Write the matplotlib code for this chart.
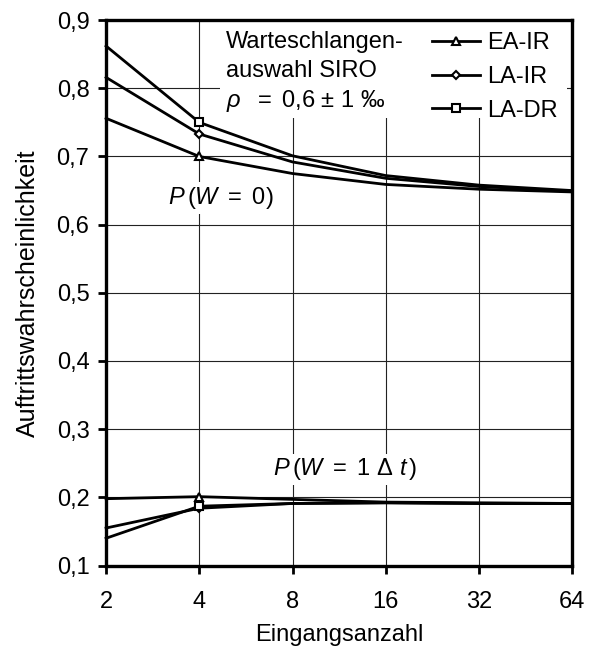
import matplotlib
matplotlib.use("Agg")
import matplotlib.pyplot as plt
from matplotlib.patches import Rectangle
from matplotlib.lines import Line2D

plt.rcParams['font.family'] = ['Liberation Sans', 'DejaVu Sans']
plt.rcParams['mathtext.fontset'] = 'custom'
plt.rcParams['mathtext.rm'] = 'Liberation Sans'
plt.rcParams['mathtext.it'] = 'Liberation Sans:italic'

# Data
eingaenge = [2, 4, 8, 16, 32, 64]
x_labels = ['2', '4', '8', '16', '32', '64']
y_ticks = [0.1, 0.2, 0.3, 0.4, 0.5, 0.6, 0.7, 0.8, 0.9]
y_labels = ['0,1', '0,2', '0,3', '0,4', '0,5', '0,6', '0,7', '0,8', '0,9']

series_names = ['EA-IR', 'LA-IR', 'LA-DR']
p0_ea_ir = [0.756, 0.700, 0.675, 0.659, 0.652, 0.648]
p0_la_ir = [0.816, 0.733, 0.692, 0.668, 0.656, 0.649]
p0_la_dr = [0.862, 0.750, 0.701, 0.672, 0.658, 0.650]
p1_ea_ir = [0.198, 0.201, 0.197, 0.193, 0.192, 0.191]
p1_la_ir = [0.155, 0.184, 0.191, 0.192, 0.191, 0.191]
p1_la_dr = [0.140, 0.187, 0.191, 0.192, 0.191, 0.191]

markers = ['^', 'D', 's']
msizes = [6, 4.5, 5.5]
FS = 17

fig = plt.figure(figsize=(5.96, 6.5), dpi=100)
ax = fig.add_axes([0.178, 0.13, 0.782, 0.839])
ax.set_xscale('log', base=2)
ax.set_xlim(2, 64)
ax.set_ylim(0.1, 0.9)
ax.set_xticks(eingaenge)
ax.set_xticklabels(x_labels)
ax.minorticks_off()
ax.set_yticks(y_ticks)
ax.set_yticklabels(y_labels)
ax.set_axisbelow(True)
ax.grid(True, color='#222222', linewidth=0.8)

for s in ax.spines.values():
    s.set_linewidth(2.4)
ax.tick_params(axis='both', which='major', direction='out', length=6, width=2,
               labelsize=FS)
ax.tick_params(axis='x', pad=12)
ax.tick_params(axis='y', pad=6)

# white panel behind the annotation and legend
ax.add_patch(Rectangle((0.245, 0.82), 0.744, 0.176, transform=ax.transAxes,
                       facecolor='white', edgecolor='none', zorder=1))

upper = [p0_ea_ir, p0_la_ir, p0_la_dr]
lower = [p1_ea_ir, p1_la_ir, p1_la_dr]
for vals, m, ms in zip(upper + lower, markers * 2, msizes * 2):
    ax.plot(eingaenge, vals, color='black', lw=2.0, marker=m, markevery=[1],
            markersize=ms, markerfacecolor='white', markeredgecolor='black',
            markeredgewidth=1.5, zorder=3, clip_on=False)

handles = [Line2D([], [], color='black', lw=2.0, marker=m, markersize=ms,
                  markerfacecolor='white', markeredgecolor='black', markeredgewidth=1.5)
           for m, ms in zip(markers, msizes)]
leg = ax.legend(handles, series_names, loc='upper left', bbox_to_anchor=(0.70, 0.978),
                frameon=False, fontsize=FS, handlelength=2.0, handletextpad=0.3,
                labelspacing=0.5, borderpad=0, borderaxespad=0)

ax.text(0.258, 0.9597, 'Warteschlangen-', transform=ax.transAxes,
        fontsize=FS, va='center', ha='left', zorder=4)
ax.text(0.258, 0.906, 'auswahl SIRO', transform=ax.transAxes,
        fontsize=FS, va='center', ha='left', zorder=4)
ax.text(0.258, 0.851, r'$\rho\ \ =$ 0,6 ± 1 ‰', transform=ax.transAxes,
        fontsize=FS, va='center', ha='left', zorder=4)

ax.text(4.7, 0.639, r'$P\,(W\ =\ 0)$', fontsize=FS, ha='center', va='center',
        zorder=4, bbox=dict(facecolor='white', edgecolor='none', pad=2))
ax.text(11.8, 0.241, r'$P\,(W\ =\ 1\ \Delta\ t\,)$', fontsize=FS, ha='center',
        va='center', zorder=4, bbox=dict(facecolor='white', edgecolor='none', pad=2))

ax.set_xlabel('Eingangsanzahl', fontsize=FS, labelpad=8)
ax.set_ylabel('Auftrittswahrscheinlichkeit', fontsize=18, labelpad=12)

fig.savefig('out.png', dpi=100)
